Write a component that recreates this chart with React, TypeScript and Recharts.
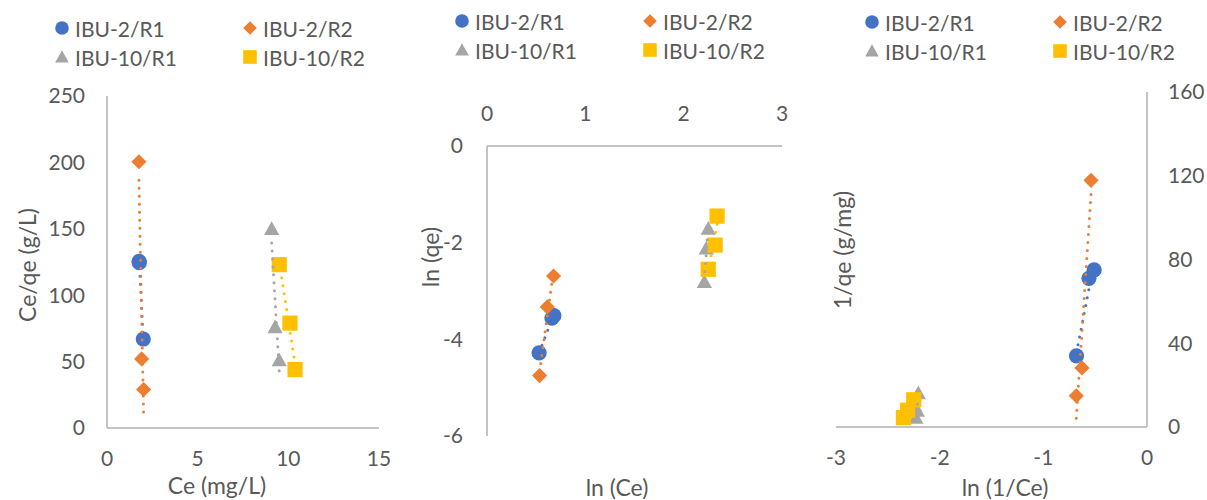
import React from 'react';
import { ScatterChart, Scatter, XAxis, YAxis } from 'recharts';

const FONT = 'Lato, "Open Sans", sans-serif';
const TEXT = '#595959';
const AXIS = '#c4c4c4';

const BLUE = '#4472C4';
const ORANGE = '#ED7D31';
const GRAY = '#A5A5A5';
const YELLOW = '#FFC000';

const seriesNames = ['IBU-2/R1', 'IBU-2/R2', 'IBU-10/R1', 'IBU-10/R2'];

// panel 1 : Ce/qe vs Ce
const p1R1 = [{ x: 1.77, y: 125.5 }, { x: 1.78, y: 124.5 }, { x: 2.0, y: 67 }];
const p1R2 = [{ x: 1.76, y: 200.5 }, { x: 1.91, y: 52 }, { x: 2.02, y: 29 }];
const p1T1 = [{ x: 9.08, y: 150 }, { x: 9.27, y: 76 }, { x: 9.5, y: 51 }];
const p1T2 = [{ x: 9.5, y: 123 }, { x: 10.09, y: 79 }, { x: 10.37, y: 44 }];
const p1XTicks = [0, 5, 10, 15];
const p1YTicks = [0, 50, 100, 150, 200, 250];

// panel 2 : ln(qe) vs ln(Ce)
const p2R1 = [{ x: 0.53, y: -4.28 }, { x: 0.66, y: -3.56 }, { x: 0.68, y: -3.51 }];
const p2R2 = [{ x: 0.535, y: -4.75 }, { x: 0.613, y: -3.33 }, { x: 0.677, y: -2.69 }];
const p2T1 = [{ x: 2.21, y: -2.81 }, { x: 2.23, y: -2.12 }, { x: 2.25, y: -1.71 }];
const p2T2 = [{ x: 2.25, y: -2.55 }, { x: 2.32, y: -2.05 }, { x: 2.34, y: -1.45 }];
const p2XTicks = [0, 1, 2, 3];
const p2YTicks = [-6, -4, -2, 0];

// panel 3 : 1/qe vs ln(1/Ce)
const p3R1 = [{ x: -0.68, y: 34 }, { x: -0.56, y: 71 }, { x: -0.51, y: 75 }];
const p3R2 = [{ x: -0.682, y: 14.9 }, { x: -0.627, y: 28.2 }, { x: -0.54, y: 117.8 }];
const p3T1 = [{ x: -2.23, y: 4.4 }, { x: -2.215, y: 7.8 }, { x: -2.206, y: 16.2 }];
const p3T2 = [{ x: -2.35, y: 4.5 }, { x: -2.31, y: 8 }, { x: -2.25, y: 13 }];
const p3XTicks = [-3, -2, -1, 0];
const p3YTicks = [0, 40, 80, 120, 160];

type Pt = { x: number; y: number };

// linear trendline (least squares) over the x range of the series
function trend(pts: Pt[]): Pt[] {
  const n = pts.length;
  const mx = pts.reduce((s, p) => s + p.x, 0) / n;
  const my = pts.reduce((s, p) => s + p.y, 0) / n;
  let sxy = 0;
  let sxx = 0;
  pts.forEach((p) => {
    sxy += (p.x - mx) * (p.y - my);
    sxx += (p.x - mx) * (p.x - mx);
  });
  const b = sxx === 0 ? 0 : sxy / sxx;
  const xs = pts.map((p) => p.x);
  const x0 = Math.min(...xs);
  const x1 = Math.max(...xs);
  return [
    { x: x0, y: my + b * (x0 - mx) },
    { x: x1, y: my + b * (x1 - mx) },
  ];
}

function Marker({ kind, cx, cy, color, s = 7.6 }: any) {
  if (kind === 'circle') return <circle cx={cx} cy={cy} r={s} fill={color} />;
  if (kind === 'diamond')
    return <polygon points={`${cx},${cy - s} ${cx + s},${cy} ${cx},${cy + s} ${cx - s},${cy}`} fill={color} />;
  if (kind === 'triangle')
    return <polygon points={`${cx},${cy - s} ${cx + s},${cy + s * 0.8} ${cx - s},${cy + s * 0.8}`} fill={color} />;
  return <rect x={cx - s} y={cy - s} width={s * 2} height={s * 2} fill={color} />;
}

const kinds = ['circle', 'diamond', 'triangle', 'square'];
const colors = [BLUE, ORANGE, GRAY, YELLOW];

function renderSeries(sets: Pt[][], prefix: string) {
  const markers = sets.map((d, i) => (
    <Scatter
      key={`${prefix}-m${i}`}
      data={d}
      fill={colors[i]}
      isAnimationActive={false}
      shape={(p: any) => <Marker kind={kinds[i]} cx={p.cx} cy={p.cy} color={colors[i]} />}
    />
  ));
  const lines = sets.map((d, i) => (
    <Scatter
      key={`${prefix}-t${i}`}
      data={trend(d)}
      fill="none"
      isAnimationActive={false}
      line={{ stroke: colors[i], strokeWidth: 3, strokeDasharray: '0 8', strokeLinecap: 'round' }}
      shape={() => <g />}
    />
  ));
  return [...markers, ...lines];
}

const tickStyle = { fill: TEXT, fontSize: 21, fontFamily: FONT };
const axisLine = { stroke: AXIS, strokeWidth: 2 };

function Legend({ left, top }: { left: number; top: number }) {
  const pos = [
    [0, 0],
    [188, 0],
    [0, 29],
    [188, 29],
  ];
  return (
    <>
      {seriesNames.map((name, i) => (
        <div key={name} style={{ position: 'absolute', left: left + pos[i][0], top: top + pos[i][1] }}>
          <svg width={16} height={16} style={{ position: 'absolute', left: -8, top: -8 }}>
            <Marker kind={kinds[i]} cx={8} cy={8} color={colors[i]} s={6.8} />
          </svg>
          <div
            style={{
              position: 'absolute',
              left: 13,
              top: 0,
              transform: 'translateY(-50%)',
              fontSize: 21,
              color: TEXT,
              whiteSpace: 'nowrap',
              lineHeight: 1,
            }}
          >
            {name}
          </div>
        </div>
      ))}
    </>
  );
}

function Title({ x, y, text, rotate }: { x: number; y: number; text: string; rotate?: boolean }) {
  return (
    <div
      style={{
        position: 'absolute',
        left: x,
        top: y,
        transform: `translate(-50%, -50%)${rotate ? ' rotate(-90deg)' : ''}`,
        fontSize: 23,
        color: TEXT,
        whiteSpace: 'nowrap',
        lineHeight: 1,
      }}
    >
      {text}
    </div>
  );
}

export default function App() {
  return (
    <div
      style={{
        position: 'absolute',
        left: 0,
        top: 0,
        width: 1207,
        height: 500,
        background: '#fff',
        fontFamily: FONT,
        overflow: 'hidden',
      }}
    >
      {/* panel 1 */}
      <div style={{ position: 'absolute', left: 0, top: 0 }}>
        <ScatterChart width={400} height={500} margin={{ top: 96, right: 21, bottom: 42, left: 47 }}>
          <XAxis
            type="number"
            dataKey="x"
            domain={[0, 15]}
            ticks={p1XTicks}
            height={30}
            axisLine={axisLine}
            tickLine={false}
            tickSize={0}
            tickMargin={23}
            tick={tickStyle}
          />
          <YAxis
            type="number"
            dataKey="y"
            domain={[0, 250]}
            ticks={p1YTicks}
            width={60}
            axisLine={axisLine}
            tickLine={false}
            tickSize={0}
            tickMargin={22}
            tick={tickStyle}
          />
          {renderSeries([p1R1, p1R2, p1T1, p1T2], 'p1')}
        </ScatterChart>
      </div>

      {/* panel 2 */}
      <div style={{ position: 'absolute', left: 400, top: 0 }}>
        <ScatterChart width={400} height={500} margin={{ top: 116, right: 18, bottom: 64, left: 27 }}>
          <XAxis
            type="number"
            dataKey="x"
            orientation="top"
            domain={[0, 3]}
            ticks={p2XTicks}
            height={30}
            axisLine={axisLine}
            tickLine={false}
            tickSize={0}
            tickMargin={25}
            tick={tickStyle}
          />
          <YAxis
            type="number"
            dataKey="y"
            domain={[-6, 0]}
            ticks={p2YTicks}
            width={60}
            axisLine={axisLine}
            tickLine={false}
            tickSize={0}
            tickMargin={24}
            tick={tickStyle}
          />
          {renderSeries([p2R1, p2R2, p2T1, p2T2], 'p2')}
        </ScatterChart>
      </div>

      {/* panel 3 */}
      <div style={{ position: 'absolute', left: 800, top: 0 }}>
        <ScatterChart width={407} height={500} margin={{ top: 92, right: 10, bottom: 43, left: 36 }}>
          <XAxis
            type="number"
            dataKey="x"
            domain={[-3, 0]}
            ticks={p3XTicks}
            height={30}
            axisLine={axisLine}
            tickLine={false}
            tickSize={0}
            tickMargin={23}
            tick={tickStyle}
          />
          <YAxis
            type="number"
            dataKey="y"
            orientation="right"
            domain={[0, 160]}
            ticks={p3YTicks}
            width={50}
            axisLine={axisLine}
            tickLine={false}
            tickSize={0}
            tickMargin={21}
            tick={tickStyle}
          />
          {renderSeries([p3R1, p3R2, p3T1, p3T2], 'p3')}
        </ScatterChart>
      </div>

      <Legend left={62} top={28} />
      <Legend left={462} top={21} />
      <Legend left={872} top={22} />

      <Title x={27} y={265} text="Ce/qe (g/L)" rotate />
      <Title x={217} y={485} text="Ce (mg/L)" />
      <Title x={430} y={257} text="ln (qe)" rotate />
      <Title x={617} y={487} text="ln (Ce)" />
      <Title x={842} y={250} text="1/qe (g/mg)" rotate />
      <Title x={1005} y={487} text="ln (1/Ce)" />
    </div>
  );
}
